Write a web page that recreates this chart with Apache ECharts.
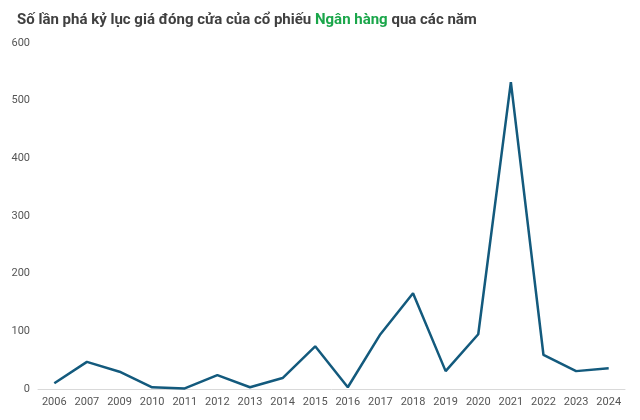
<!DOCTYPE html>
<html>
<head>
<meta charset="utf-8">
<script src="https://cdn.jsdelivr.net/npm/echarts@6/dist/echarts.min.js"></script>
<style>html,body{margin:0;background:#fff}#chart{width:640px;height:420px}</style>
</head>
<body>
<div id="chart"></div>
<script>
var years = ["2006", "2007", "2009", "2010", "2011", "2012", "2013", "2014", "2015",
  "2016", "2017", "2018", "2019", "2020", "2021", "2022", "2023", "2024"];
var counts = [10, 47, 30, 3, 1, 24, 3, 19, 74, 3, 95, 166, 31, 95, 532, 59, 31, 36];

var myChart = echarts.init(document.getElementById("chart"));
myChart.setOption({
  animation: false,
  title: {
    text: "{a|Số lần phá kỷ lục giá đóng cửa của cổ phiếu }{g|Ngân hàng}{a| qua các năm}",
    left: 12,
    top: 8,
    textStyle: {
      rich: {
        a: { fontFamily: "Roboto", fontWeight: "bold", fontSize: 15, color: "#404040" },
        g: { fontFamily: "Roboto", fontWeight: "bold", fontSize: 15, color: "#1aa64a" },
      },
    },
  },
  grid: { left: 38, right: 15, top: 43, bottom: 31 },
  xAxis: {
    type: "category",
    data: years,
    axisTick: { show: false },
    axisLine: { lineStyle: { color: "#d9d9d9" } },
    axisLabel: { color: "#555", fontSize: 11, fontFamily: "Roboto", interval: 0 },
  },
  yAxis: {
    type: "value",
    min: 0,
    max: 600,
    interval: 100,
    splitLine: { show: false },
    axisLabel: { color: "#555", fontSize: 11, fontFamily: "Roboto" },
  },
  series: [
    {
      type: "line",
      data: counts,
      symbol: "none",
      lineStyle: { color: "#135a7d", width: 2.5 },
    },
  ],
});
</script>
</body>
</html>
